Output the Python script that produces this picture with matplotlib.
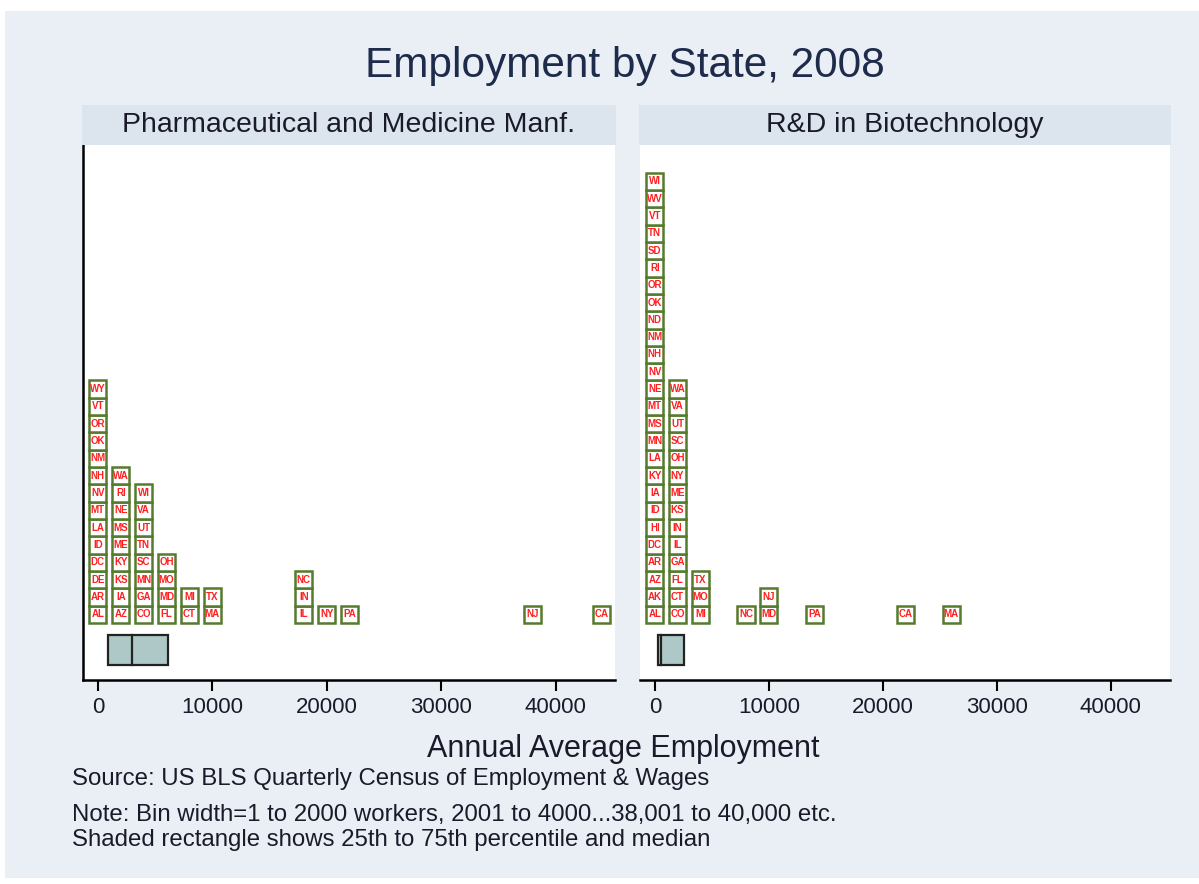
# employment by state, 2008 - dot/box histogram with state labels

import matplotlib
matplotlib.use('Agg')
import matplotlib.pyplot as plt
from matplotlib.patches import Rectangle

plt.rcParams['font.family'] = ['Liberation Sans', 'DejaVu Sans']

# bin start (workers) and the states stacked in that bin, bottom to top
pharma_bins = [0, 2000, 4000, 6000, 8000, 10000, 18000, 20000, 22000, 38000, 44000]
pharma_states = [
    ['AL', 'AR', 'DE', 'DC', 'ID', 'LA', 'MT', 'NV', 'NH', 'NM', 'OK', 'OR', 'VT', 'WY'],
    ['AZ', 'IA', 'KS', 'KY', 'ME', 'MS', 'NE', 'RI', 'WA'],
    ['CO', 'GA', 'MN', 'SC', 'TN', 'UT', 'VA', 'WI'],
    ['FL', 'MD', 'MO', 'OH'],
    ['CT', 'MI'],
    ['MA', 'TX'],
    ['IL', 'IN', 'NC'],
    ['NY'],
    ['PA'],
    ['NJ'],
    ['CA'],
]
pharma_quartiles = [900, 3000, 6150]   # 25th, median, 75th

biotech_bins = [0, 2000, 4000, 8000, 10000, 14000, 22000, 26000]
biotech_states = [
    ['AL', 'AK', 'AZ', 'AR', 'DC', 'HI', 'ID', 'IA', 'KY', 'LA', 'MN', 'MS', 'MT',
     'NE', 'NV', 'NH', 'NM', 'ND', 'OK', 'OR', 'RI', 'SD', 'TN', 'VT', 'WV', 'WI'],
    ['CO', 'CT', 'FL', 'GA', 'IL', 'IN', 'KS', 'ME', 'NY', 'OH', 'SC', 'UT', 'VA', 'WA'],
    ['MI', 'MO', 'TX'],
    ['NC'],
    ['MD', 'NJ'],
    ['PA'],
    ['CA'],
    ['MA'],
]
biotech_quartiles = [320, 560, 2580]

panel_titles = ['Pharmaceutical and Medicine Manf.', 'R&D in Biotechnology']
xticks = [0, 10000, 20000, 30000, 40000]

bg = '#eaeff5'
strip_col = '#dce4ee'
txt_col = '#1a1a2a'
box_green = '#557b2d'
lab_red = '#ff2020'

W, H = 1199, 884
fig = plt.figure(figsize=(W / 100, H / 100), dpi=100)
fig.patch.set_facecolor('white')
fig.patches.append(Rectangle((5 / W, 6 / H), 1 - 5 / W, 1 - 17 / H,
                             transform=fig.transFigure, facecolor=bg,
                             edgecolor='none', zorder=-10))

fig.text(0.521, 1 - 66 / H, 'Employment by State, 2008', ha='center', va='center',
         fontsize=30.5, color='#1e2b4a')

panels = [(83, 615, pharma_bins, pharma_states, pharma_quartiles),
          (640, 1170, biotech_bins, biotech_states, biotech_quartiles)]

for i, (x0, x1, bins, states, quart) in enumerate(panels):
    ax = fig.add_axes([x0 / W, 1 - 680 / H, (x1 - x0) / W, 535 / H])
    ax.set_facecolor('white')
    ax.set_xlim(-1300, 45200)
    ax.set_ylim(-3.3, 27.6)

    # stacked labelled boxes
    for b, col in zip(bins, states):
        for j, st in enumerate(col):
            ax.add_patch(Rectangle((b - 750, j), 1500, 1, facecolor='white',
                                   edgecolor=box_green, linewidth=1.8))
            ax.text(b, j + 0.5, st, ha='center', va='center', fontsize=7,
                    fontweight='bold', color=lab_red)

    # 25th-75th percentile box with median
    ax.add_patch(Rectangle((quart[0], -2.45), quart[2] - quart[0], 1.75,
                           facecolor='#adc8c6', edgecolor='#222222', linewidth=1.6))
    ax.plot([quart[1], quart[1]], [-2.45, -0.7], color='#222222', linewidth=1.6)

    for s in ['top', 'right']:
        ax.spines[s].set_visible(False)
    ax.spines['left'].set_visible(i == 0)
    ax.spines['left'].set_linewidth(1.8)
    ax.spines['bottom'].set_linewidth(1.8)
    ax.set_yticks([])
    ax.set_xticks(xticks)
    ax.set_xticklabels([str(t) for t in xticks])
    ax.tick_params(axis='x', length=8, width=1.5, labelsize=16,
                   labelcolor=txt_col, pad=4)

    # strip header
    fig.patches.append(Rectangle(((x0 - 1) / W, 1 - 145 / H), (x1 - x0 + 2) / W, 40 / H,
                                 transform=fig.transFigure, facecolor=strip_col,
                                 edgecolor='none'))
    fig.text((x0 + x1) / 2 / W, 1 - 125 / H, panel_titles[i], ha='center',
             va='center', fontsize=20.5, color=txt_col)

fig.text(623 / W, 1 - 749 / H, 'Annual Average Employment', ha='center',
         va='center', fontsize=22, color=txt_col)
fig.text(72 / W, 1 - 779 / H, 'Source: US BLS Quarterly Census of Employment & Wages',
         ha='left', va='center', fontsize=17.3, color=txt_col)
fig.text(72 / W, 1 - 815 / H,
         'Note: Bin width=1 to 2000 workers, 2001 to 4000...38,001 to 40,000 etc.',
         ha='left', va='center', fontsize=17.3, color=txt_col)
fig.text(72 / W, 1 - 840 / H, 'Shaded rectangle shows 25th to 75th percentile and median',
         ha='left', va='center', fontsize=17.3, color=txt_col)

plt.savefig('out.png', dpi=100, facecolor=fig.get_facecolor())
